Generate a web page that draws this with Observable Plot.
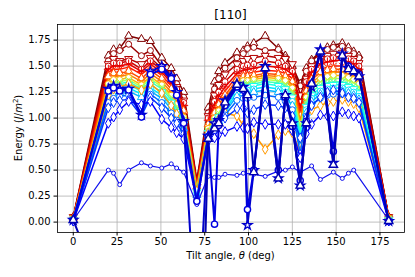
<!DOCTYPE html>
<html><head><meta charset="utf-8">
<script src="https://cdn.jsdelivr.net/npm/d3@7"></script>
<script src="https://cdn.jsdelivr.net/npm/@observablehq/plot@0.6"></script>
<style>body{margin:0;background:#fff;} svg{font-family:"DejaVu Sans",sans-serif;}</style>
</head><body><div id="chart"></div>
<script>
const title = "[110]";
const angles = [0, 20, 23, 26.5, 31.6, 38.9, 44, 50.5, 55.9, 59, 63, 70.5, 77, 80.6, 83, 86.6, 93.4, 97, 99.4, 103, 109.5, 117, 121, 125, 129.5, 133, 136, 141, 145, 148.4, 153.5, 157, 160, 163, 180];
const xTicks = [0, 25, 50, 75, 100, 125, 150, 175];
const yTicks = [0, 0.25, 0.5, 0.75, 1.0, 1.25, 1.5, 1.75];

const s0  = [0.05,1.60,1.66,1.67,1.79,1.76,1.74,1.58,1.48,1.38,1.25,0.40,1.10,1.35,1.45,1.53,1.63,1.65,1.69,1.72,1.79,1.67,1.60,1.50,1.33,1.48,1.56,1.64,1.68,1.70,1.72,1.68,1.64,1.60,0.05];
const s1  = [0.05,1.55,1.62,1.65,1.71,1.60,1.65,1.50,1.42,1.33,1.20,0.39,1.05,1.28,1.38,1.48,1.58,1.62,1.67,1.68,1.65,1.66,1.58,1.48,1.31,1.45,1.55,1.62,1.66,1.68,1.69,1.65,1.62,1.58,0.05];
const s2  = [0.05,1.52,1.57,1.55,1.57,1.52,1.58,1.48,1.38,1.30,1.17,0.38,1.02,1.22,1.32,1.42,1.52,1.55,1.57,1.58,1.60,1.58,1.57,1.52,1.22,1.38,1.50,1.57,1.60,1.62,1.63,1.60,1.57,1.53,0.05];
const s3  = [0.04,1.50,1.53,1.53,1.55,1.47,1.55,1.46,1.36,1.28,1.15,0.37,1.00,1.16,1.25,1.35,1.47,1.50,1.51,1.52,1.55,1.53,1.50,1.45,1.15,1.35,1.47,1.55,1.57,1.58,1.60,1.57,1.55,1.50,0.05];
const s4  = [0.04,1.47,1.50,1.50,1.52,1.45,1.52,1.44,1.34,1.25,1.12,0.36,0.98,1.12,1.21,1.30,1.43,1.46,1.47,1.48,1.50,1.49,1.47,1.42,1.10,1.32,1.44,1.52,1.54,1.55,1.56,1.54,1.52,1.47,0.05];
const s5  = [0.04,1.44,1.47,1.47,1.49,1.42,1.49,1.41,1.31,1.22,1.10,0.35,0.96,1.08,1.17,1.26,1.40,1.42,1.43,1.44,1.46,1.45,1.43,1.38,1.06,1.29,1.40,1.47,1.49,1.50,1.50,1.48,1.46,1.42,0.04];
const s6  = [0.04,1.40,1.43,1.43,1.45,1.38,1.46,1.38,1.28,1.19,1.07,0.34,0.94,1.05,1.13,1.22,1.37,1.40,1.40,1.41,1.43,1.42,1.40,1.35,1.02,1.26,1.37,1.44,1.46,1.47,1.47,1.45,1.43,1.39,0.04];
const s7  = [0.04,1.36,1.40,1.40,1.42,1.35,1.43,1.35,1.25,1.16,1.04,0.33,0.92,1.02,1.10,1.19,1.35,1.38,1.38,1.39,1.41,1.40,1.38,1.32,0.98,1.23,1.34,1.41,1.43,1.44,1.44,1.42,1.40,1.36,0.04];
const s8  = [0.03,1.33,1.37,1.37,1.39,1.32,1.40,1.32,1.22,1.13,1.01,0.32,0.90,1.00,1.07,1.16,1.33,1.36,1.36,1.37,1.39,1.38,1.36,1.29,0.95,1.20,1.31,1.38,1.40,1.41,1.41,1.39,1.37,1.33,0.04];
const s9  = [0.03,1.30,1.34,1.35,1.37,1.30,1.38,1.30,1.20,1.11,0.99,0.31,0.88,0.98,1.05,1.14,1.31,1.34,1.34,1.35,1.37,1.36,1.33,1.26,0.91,1.17,1.28,1.35,1.37,1.38,1.38,1.36,1.34,1.30,0.03];
const s10 = [0.03,1.27,1.31,1.33,1.35,1.28,1.35,1.28,1.18,1.09,0.97,0.30,0.87,0.97,1.03,1.12,1.29,1.32,1.32,1.33,1.35,1.34,1.31,1.23,0.87,1.14,1.25,1.32,1.34,1.35,1.35,1.33,1.31,1.27,0.03];
const s11 = [0.02,1.24,1.28,1.30,1.32,1.26,1.32,1.25,1.15,1.06,0.94,0.29,0.86,0.95,1.01,1.10,1.27,1.30,1.30,1.31,1.33,1.31,1.28,1.20,0.83,1.11,1.22,1.29,1.31,1.32,1.32,1.30,1.28,1.24,0.02];
const s12 = [0.02,1.20,1.25,1.27,1.29,1.23,1.29,1.22,1.12,1.03,0.92,0.28,0.85,0.94,0.99,1.08,1.24,1.27,1.27,1.28,1.30,1.28,1.25,1.16,0.79,1.08,1.19,1.26,1.28,1.29,1.29,1.27,1.25,1.21,0.02];
const s13 = [0.02,1.17,1.22,1.24,1.26,1.20,1.26,1.19,1.09,1.00,0.90,0.26,0.84,0.92,0.97,1.06,1.21,1.24,1.24,1.25,1.27,1.25,1.21,1.12,0.72,1.05,1.16,1.23,1.25,1.26,1.26,1.24,1.22,1.18,0.02];
const s14 = [0.01,1.15,1.19,1.21,1.22,1.04,1.23,1.15,1.05,0.98,0.88,0.24,0.83,0.90,0.95,1.03,1.17,1.19,1.19,1.20,1.22,1.20,1.16,1.08,0.66,1.02,1.13,1.19,1.22,1.23,1.23,1.21,1.19,1.15,0.01];
const s15 = [0.01,1.10,1.15,1.17,1.18,1.02,1.20,1.10,1.00,0.95,0.85,0.22,0.82,0.88,0.95,1.00,1.09,1.10,1.05,1.08,1.13,1.12,1.10,1.02,0.81,1.00,1.12,1.20,1.25,1.27,1.24,1.20,1.19,1.15,0.01];
const s16 = [0.01,0.95,1.01,1.08,1.16,1.13,1.16,0.99,0.91,0.86,0.80,0.20,0.78,0.81,0.84,0.87,0.92,0.91,0.90,0.96,0.94,0.94,0.94,0.88,0.62,0.85,0.94,1.03,1.02,1.02,1.06,1.04,1.02,1.00,0.01];
const s17 = [0.03,1.22,1.28,1.30,1.33,1.27,1.33,1.24,1.12,1.04,0.93,0.30,0.86,0.94,0.99,1.05,1.02,0.93,0.90,0.85,0.70,0.84,0.88,0.86,0.68,1.00,1.08,1.12,1.15,1.16,1.18,1.16,1.14,1.10,0.03];
const s18 = [0.02,0.50,0.47,0.36,0.50,0.57,0.54,0.52,0.56,0.52,0.48,0.17,0.44,0.43,0.43,0.46,0.45,0.47,null,0.46,0.44,0.49,0.50,0.53,0.48,null,0.54,0.41,null,0.48,0.42,0.47,0.50,null,0.02];
const w1  = [0.02,1.28,1.31,1.28,1.28,1.03,1.45,1.50,1.40,1.25,0.97,-1.2,0.83,0.95,0.98,1.17,1.33,1.30,-0.03,0.50,1.50,0.42,1.22,0.95,0.35,0.95,1.30,1.66,null,0.57,1.62,1.48,1.45,1.40,0.01];
const w2  = [0.02,1.26,1.29,1.26,1.27,1.01,1.42,1.47,1.38,1.22,0.95,0.20,0.82,-0.02,0.93,1.12,1.30,1.27,0.12,0.50,1.47,0.50,1.20,0.92,0.40,0.97,1.33,1.62,null,0.68,1.58,1.50,1.45,1.42,0.01];
const w3  = [0.02,null,null,null,null,null,null,null,null,null,null,-3.0,0.80,0.90,0.95,1.15,1.32,1.28,1.22,0.48,1.48,0.42,1.22,0.95,0.35,0.95,1.33,1.64,null,0.55,1.60,1.47,1.45,1.40,0.01];

const seriesValues = [s0,s1,s2,s3,s4,s5,s6,s7,s8,s9,s10,s11,s12,s13,s17,s14,s15,s16,s18,w1,w2,w3];
const seriesColors = ["#800000","#990000","#b30000","#cc0000","#e60000","#ff1a00","#ff4d00","#ff8000","#ffb300","#b3ff4d","#4dffb3","#1affe6","#00e6ff","#00b3ff","#ff9900","#0066ff","#0033ff","#0000ff","#1010ee","#0000cd","#0000e0","#0000b4"];
const seriesSymbols = ["triangle","circle","triangle","circle","plus","times","triangle","times","circle","times","times","triangle","circle","triangle","diamond","circle","diamond","diamond","circle","star","circle","triangle"];
const seriesRotate = [0,0,180,0,0,0,0,0,0,0,0,180,0,0,0,0,0,0,0,0,0,0];
const seriesKind = ["n","n","n","n","n","n","n","n","n","n","n","n","n","n","n","n","n","n","b","w","w","w"];

const marks = [
  Plot.ruleX(xTicks, {x: d => d, stroke: "#b0b0b0", strokeWidth: 0.8}),
  Plot.ruleY(yTicks, {y: d => d, stroke: "#b0b0b0", strokeWidth: 0.8})
];
seriesValues.forEach((vals, i) => {
  const pts = angles.map((a, j) => ({x: a, y: vals[j]})).filter(d => d.y != null);
  const k = seriesKind[i];
  const lw = k === "w" ? 2 : k === "b" ? 1.2 : 1.5;
  const r = k === "w" ? (seriesSymbols[i] === "star" ? 2.8 : 3.1) : k === "b" ? 2 : 3;
  const sw = k === "w" ? 1.4 : 1;
  marks.push(Plot.line(pts, {x: "x", y: "y", stroke: seriesColors[i], strokeWidth: lw, clip: true}));
  marks.push(Plot.dot(pts, {x: "x", y: "y", stroke: seriesColors[i], fill: "white", r, symbol: seriesSymbols[i], rotate: seriesRotate[i], strokeWidth: sw, clip: true}));
});
marks.push(Plot.frame({stroke: "black", strokeWidth: 0.8}));

const chart = Plot.plot({
  width: 415, height: 277,
  marginTop: 24, marginBottom: 45, marginLeft: 57, marginRight: 11,
  style: {fontFamily: "DejaVu Sans", fontSize: "10px", color: "black", background: "white"},
  x: {domain: [-9, 189], ticks: xTicks, tickSize: 3.5, tickPadding: 1.5, label: null},
  y: {domain: [-0.1, 1.9], ticks: yTicks, tickFormat: ".2f", tickSize: 3.5, tickPadding: 3.5, label: null},
  marks
});
document.getElementById("chart").appendChild(chart);

const svg = d3.select(chart);
svg.append("text").attr("x", 230.5).attr("y", 19).attr("text-anchor", "middle")
  .attr("font-size", 12).attr("fill", "black").text(title);
const xl = svg.append("text").attr("x", 230.5).attr("y", 259).attr("text-anchor", "middle")
  .attr("font-size", 10).attr("fill", "black");
xl.append("tspan").text("Tilt angle, ");
xl.append("tspan").attr("font-style", "italic").text("θ");
xl.append("tspan").text(" (deg)");
const yl = svg.append("text").attr("transform", "translate(22,128) rotate(-90)").attr("text-anchor", "middle")
  .attr("font-size", 10).attr("fill", "black");
yl.append("tspan").text("Energy (");
yl.append("tspan").attr("font-style", "italic").text("J");
yl.append("tspan").text("/");
yl.append("tspan").attr("font-style", "italic").text("m");
yl.append("tspan").attr("font-size", 7).attr("dy", -4).text("2");
yl.append("tspan").attr("dy", 4).text(")");
</script>
</body></html>
